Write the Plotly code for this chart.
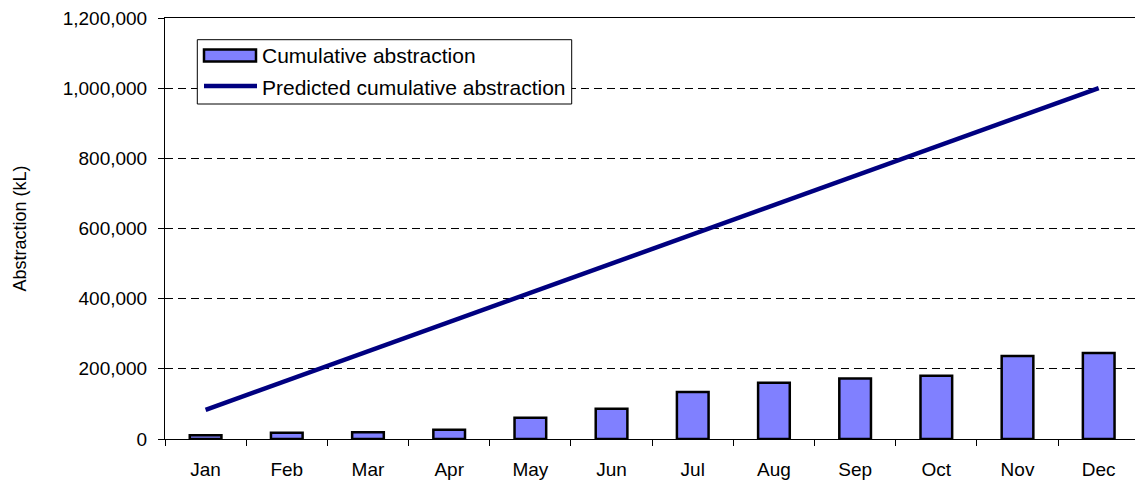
import plotly.graph_objects as go

months = ["Jan", "Feb", "Mar", "Apr", "May", "Jun", "Jul", "Aug", "Sep", "Oct", "Nov", "Dec"]
cumulative = [11000, 17600, 19000, 26500, 60600, 86300, 133800, 160300, 172800, 180200, 236300, 244800]
predicted = [83333, 166667, 250000, 333333, 416667, 500000, 583333, 666667, 750000, 833333, 916667, 1000000]
y_ticks = [0, 200000, 400000, 600000, 800000, 1000000, 1200000]

W, H = 1135, 483
ML, MR, MT, MB = 165, 0, 18, 44
PW, PH = W - ML - MR, H - MT - MB
FONT = "Liberation Sans, Arial, sans-serif"


def px(x):
    return (x - ML) / PW


def py(y):
    return (H - MB - y) / PH


fig = go.Figure()
fig.add_trace(go.Bar(
    x=months, y=cumulative, name="Cumulative abstraction",
    marker=dict(color="#8080FF", line=dict(color="black", width=2.5)),
    width=0.39,
))
fig.add_trace(go.Scatter(
    x=months, y=predicted, name="Predicted cumulative abstraction",
    mode="lines", line=dict(color="#000080", width=4.5),
))

shapes = [
    dict(type="rect", xref="paper", yref="paper", x0=px(197.3), x1=px(571.7), y0=py(104), y1=py(39.7),
         line=dict(color="black", width=1), fillcolor="white", layer="above"),
    dict(type="rect", xref="paper", yref="paper", x0=px(204), x1=px(256), y0=py(61.5), y1=py(49.5),
         line=dict(color="black", width=2.5), fillcolor="#8080FF", layer="above"),
    dict(type="line", xref="paper", yref="paper", x0=px(204), x1=px(257), y0=py(86), y1=py(86),
         line=dict(color="#000080", width=4.5), layer="above"),
]
annotations = [
    dict(text="Cumulative abstraction", xref="paper", yref="paper", x=px(260), y=py(56),
         xanchor="left", yanchor="middle", showarrow=False, font=dict(family=FONT, size=21, color="black")),
    dict(text="Predicted cumulative abstraction", xref="paper", yref="paper", x=px(260), y=py(87),
         xanchor="left", yanchor="middle", showarrow=False, font=dict(family=FONT, size=21, color="black")),
    dict(text="Abstraction (kL)", xref="paper", yref="paper", x=px(19), y=0.5, textangle=-90,
         xanchor="center", yanchor="middle", showarrow=False, font=dict(family=FONT, size=18, color="black")),
]

fig.update_layout(
    width=W, height=H,
    margin=dict(l=ML, r=MR, t=MT, b=MB, pad=0),
    paper_bgcolor="white", plot_bgcolor="white",
    showlegend=False,
    font=dict(family=FONT, size=18, color="black"),
    shapes=shapes, annotations=annotations,
)
fig.update_xaxes(
    type="category", range=[-0.5, 11.5 - 4.3 / 81.2],
    showline=True, linecolor="black", linewidth=1, mirror=True,
    ticks="outside", ticklen=6, tickcolor="black", tickson="boundaries",
    showgrid=False, tickfont=dict(family=FONT, size=19, color="black"),
    ticklabelstandoff=13,
)
fig.update_yaxes(
    range=[0, 1200000], tickvals=y_ticks, tickformat=",",
    showline=True, linecolor="black", linewidth=1,
    ticks="outside", ticklen=6, tickcolor="black",
    showgrid=True, gridcolor="black", gridwidth=1, griddash="8px,5px",
    zeroline=False, tickfont=dict(family=FONT, size=19, color="black"),
    ticklabelstandoff=7,
)

fig.write_html("out.html")
